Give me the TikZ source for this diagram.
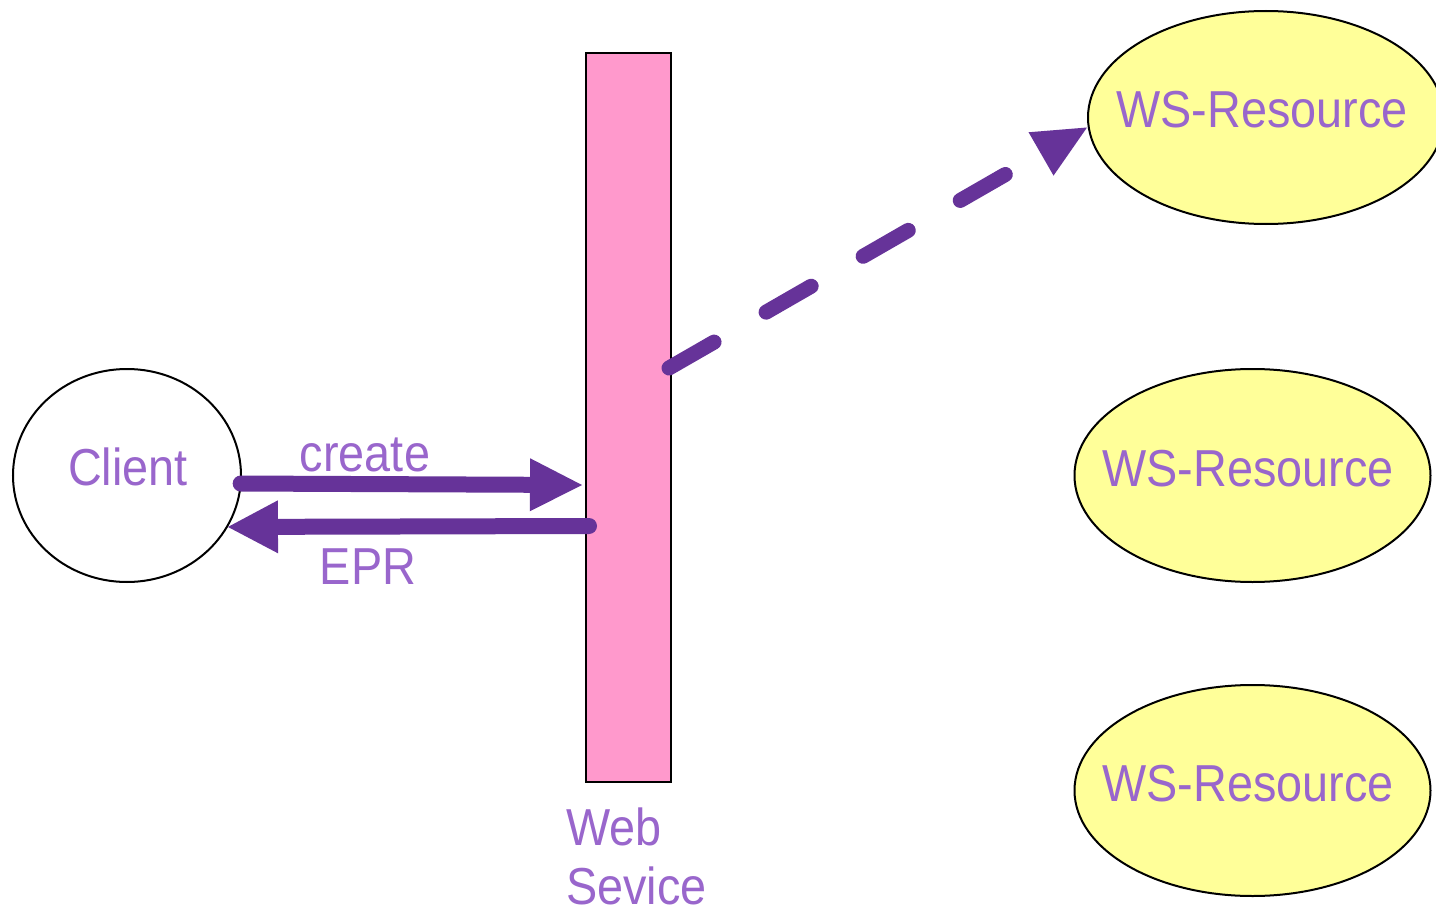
\documentclass[tikz,border=0pt]{standalone}
\usepackage{fontspec}
\setmainfont[FakeStretch=0.9]{Liberation Sans}
\usetikzlibrary{arrows.meta,shapes.geometric}
\definecolor{wspink}{HTML}{FF99CC}
\definecolor{resyellow}{HTML}{FFFF99}
\definecolor{txtpurple}{HTML}{9966CC}
\definecolor{arrowpurple}{HTML}{663399}
\begin{document}
\begin{tikzpicture}[x=1pt,y=-1pt,
  lbl/.style={text=txtpurple, font=\fontsize{52}{60}\selectfont, inner sep=0pt},
  blob/.style={ellipse, draw=black, line width=2pt, inner sep=0pt},
  resource/.style={blob, fill=resyellow, minimum width=356pt, minimum height=213pt},
  service/.style={rectangle, draw=black, line width=2pt, fill=wspink,
    minimum width=85pt, minimum height=729pt, inner sep=0pt},
  conn/.style={draw=arrowpurple, line width=16pt, line cap=round},
  headtip/.style={-{Triangle[length=#1,width=53pt,line width=0pt]}},
]
\useasboundingbox[fill=white] (0,0) rectangle (1436,907);

% shapes
\node[blob, minimum width=228pt, minimum height=213pt] (client) at (127,475.5) {};
\node[service] (ws) at (628.5,417.5) {};
\node[resource] (r1) at (1266,117.5) {};
\node[resource] (r2) at (1252.5,475.5) {};
\node[resource, minimum height=211pt] (r3) at (1252.5,790.5) {};

% labels
\node[lbl, anchor=base] (clientlbl) at (128,485) {Client};
\node[lbl, anchor=base] (createlbl) at (365,471) {create};
\node[lbl, anchor=base] (eprlbl) at (368,584) {EPR};
\node[lbl, anchor=base west] (wslbl1) at (566,845) {Web};
\node[lbl, anchor=base west] (wslbl2) at (566,904) {Sevice};
\node[lbl, anchor=base] (r1lbl) at (1262,128) {WS-Resource};
\node[lbl, anchor=base] (r2lbl) at (1248,486) {WS-Resource};
\node[lbl, anchor=base] (r3lbl) at (1248,801) {WS-Resource};

% request and reply
\draw[conn, headtip=52pt] ([xshift=-1pt]client.-4.8) -- ([xshift=-3pt,yshift=-67.5pt]ws.west);
\draw[conn, headtip=50pt] ([xshift=4pt,yshift=-108.5pt]ws.west) -- (client.-27);

% reference to the created resource
\draw[conn, line width=15pt, dash pattern=on 52pt off 60pt,
  -{Triangle[length=53pt,width=50pt,line width=0pt]}]
  ([xshift=-3pt,yshift=49.5pt]ws.east) -- ([yshift=-10pt]r1.west);
\end{tikzpicture}
\end{document}
